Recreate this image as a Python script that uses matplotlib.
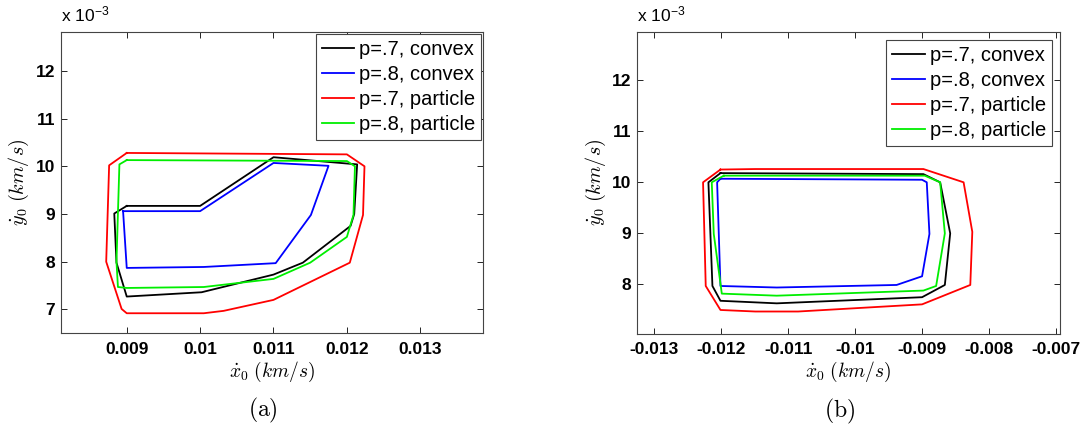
import matplotlib
matplotlib.use('Agg')
import matplotlib.pyplot as plt

plt.rcParams['font.family'] = ['Liberation Sans', 'DejaVu Sans']
plt.rcParams['mathtext.fontset'] = 'cm'

labels = ['p=.7, convex', 'p=.8, convex', 'p=.7, particle', 'p=.8, particle']
colors = ['black', 'blue', 'red', '#00ee00']

# panel (a): x in km/s, y in units of 1e-3 km/s
a_conv7_x = [0.0090, 0.0100, 0.0110, 0.01214, 0.01210, 0.01205, 0.0114, 0.0110, 0.01002, 0.0090, 0.00886, 0.00883, 0.0090]
a_conv7_y = [9.17, 9.17, 10.19, 10.04, 9.0, 8.75, 7.98, 7.73, 7.36, 7.27, 7.98, 9.01, 9.17]
a_conv8_x = [0.00895, 0.0100, 0.0110, 0.01175, 0.01151, 0.01103, 0.01005, 0.0090, 0.00895]
a_conv8_y = [9.06, 9.06, 10.07, 10.01, 8.98, 7.97, 7.89, 7.87, 9.06]
a_part7_x = [0.0090, 0.00876, 0.00872, 0.00893, 0.0090, 0.01005, 0.01032, 0.0110, 0.01204, 0.01222, 0.01224, 0.0120, 0.0090]
a_part7_y = [10.28, 10.02, 8.0, 7.01, 6.92, 6.92, 6.97, 7.20, 7.98, 8.98, 10.0, 10.25, 10.28]
a_part8_x = [0.0090, 0.0089, 0.00886, 0.00888, 0.0090, 0.01005, 0.0110, 0.0115, 0.0120, 0.01209, 0.01211, 0.0120, 0.0090]
a_part8_y = [10.13, 10.04, 8.0, 7.47, 7.45, 7.47, 7.64, 7.98, 8.52, 8.98, 10.0, 10.11, 10.13]

# panel (b)
b_conv7_x = [-0.01201, -0.01219, -0.01213, -0.01201, -0.01117, -0.0090, -0.00866, -0.00858, -0.00873, -0.00898, -0.01201]
b_conv7_y = [10.18, 10.0, 7.97, 7.68, 7.63, 7.75, 7.99, 9.0, 10.0, 10.16, 10.18]
b_conv8_x = [-0.01201, -0.01206, -0.01201, -0.01117, -0.00938, -0.0090, -0.00889, -0.00893, -0.0090, -0.01201]
b_conv8_y = [10.07, 10.0, 7.97, 7.94, 7.99, 8.16, 8.99, 10.0, 10.05, 10.07]
b_part7_x = [-0.01201, -0.01227, -0.01223, -0.01201, -0.01149, -0.01085, -0.0090, -0.00828, -0.00825, -0.00838, -0.00898, -0.01149, -0.01201]
b_part7_y = [10.25, 10.0, 7.97, 7.50, 7.47, 7.47, 7.61, 7.99, 9.03, 10.0, 10.26, 10.26, 10.25]
b_part8_x = [-0.01196, -0.01214, -0.01211, -0.01199, -0.01117, -0.00898, -0.00879, -0.00866, -0.00873, -0.00896, -0.01196]
b_part8_y = [10.13, 10.0, 8.99, 7.82, 7.78, 7.88, 7.97, 9.0, 10.0, 10.13, 10.13]

a_xticks = [0.009, 0.01, 0.011, 0.012, 0.013]
a_xticklabels = ['0.009', '0.01', '0.011', '0.012', '0.013']
b_xticks = [-0.013, -0.012, -0.011, -0.01, -0.009, -0.008, -0.007]
b_xticklabels = ['-0.013', '-0.012', '-0.011', '-0.01', '-0.009', '-0.008', '-0.007']
a_yticks = [7, 8, 9, 10, 11, 12]
b_yticks = [8, 9, 10, 11, 12]

fig = plt.figure(figsize=(10.84, 4.32), dpi=100)
ax1 = fig.add_axes([0.056, 0.2285, 0.3899, 0.698])
ax2 = fig.add_axes([0.5874, 0.2269, 0.3905, 0.6998])

panels = [
    (ax1, [(a_conv7_x, a_conv7_y), (a_conv8_x, a_conv8_y), (a_part7_x, a_part7_y), (a_part8_x, a_part8_y)],
     (0.0081, 0.01386), (6.5, 12.82), a_xticks, a_xticklabels, a_yticks, '(a)', 0.1),
    (ax2, [(b_conv7_x, b_conv7_y), (b_conv8_x, b_conv8_y), (b_part7_x, b_part7_y), (b_part8_x, b_part8_y)],
     (-0.01326, -0.00694), (7.03, 12.95), b_xticks, b_xticklabels, b_yticks, '(b)', 0.4),
]

for ax, series, xl, yl, xt, xtl, yt, cap, bpad in panels:
    for (xs, ys), c, lab in zip(series, colors, labels):
        ax.plot(xs, ys, color=c, lw=1.3, label=lab)
    ax.set_xlim(*xl)
    ax.set_ylim(*yl)
    ax.set_xticks(xt)
    ax.set_xticklabels(xtl, fontweight='bold', fontsize=12.5)
    ax.set_yticks(yt)
    ax.set_yticklabels([str(v) for v in yt], fontweight='bold', fontsize=12.5)
    ax.tick_params(direction='in', top=True, right=True, length=4, width=0.6)
    ax.tick_params(axis='x', pad=6)
    ax.tick_params(axis='y', pad=4)
    for sp in ax.spines.values():
        sp.set_linewidth(0.8)
        sp.set_color('#444444')
    ax.set_xlabel(r'$\dot{x}_0\;(km/s)$', fontsize=14, labelpad=2)
    ax.set_ylabel(r'$\dot{y}_0\;(km/s)$', fontsize=14.5, labelpad=3)
    ax.text(0.0, 1.02, r'x 10$^{\mathregular{-3}}$', transform=ax.transAxes, fontsize=12.5,
            va='bottom', ha='left')
    leg = ax.legend(loc='upper right', fontsize=14.5, handlelength=1.6, handletextpad=0.25,
                    borderaxespad=bpad, labelspacing=0.3, borderpad=0.3,
                    fancybox=False, framealpha=1)
    leg.get_frame().set_edgecolor('#444444')
    leg.get_frame().set_linewidth(0.8)
    ax.text(0.478, -0.255, r'$\mathrm{(' + cap[1] + r')}$', transform=ax.transAxes,
            fontsize=17, ha='center', va='center')

fig.savefig('out.png', dpi=100)
